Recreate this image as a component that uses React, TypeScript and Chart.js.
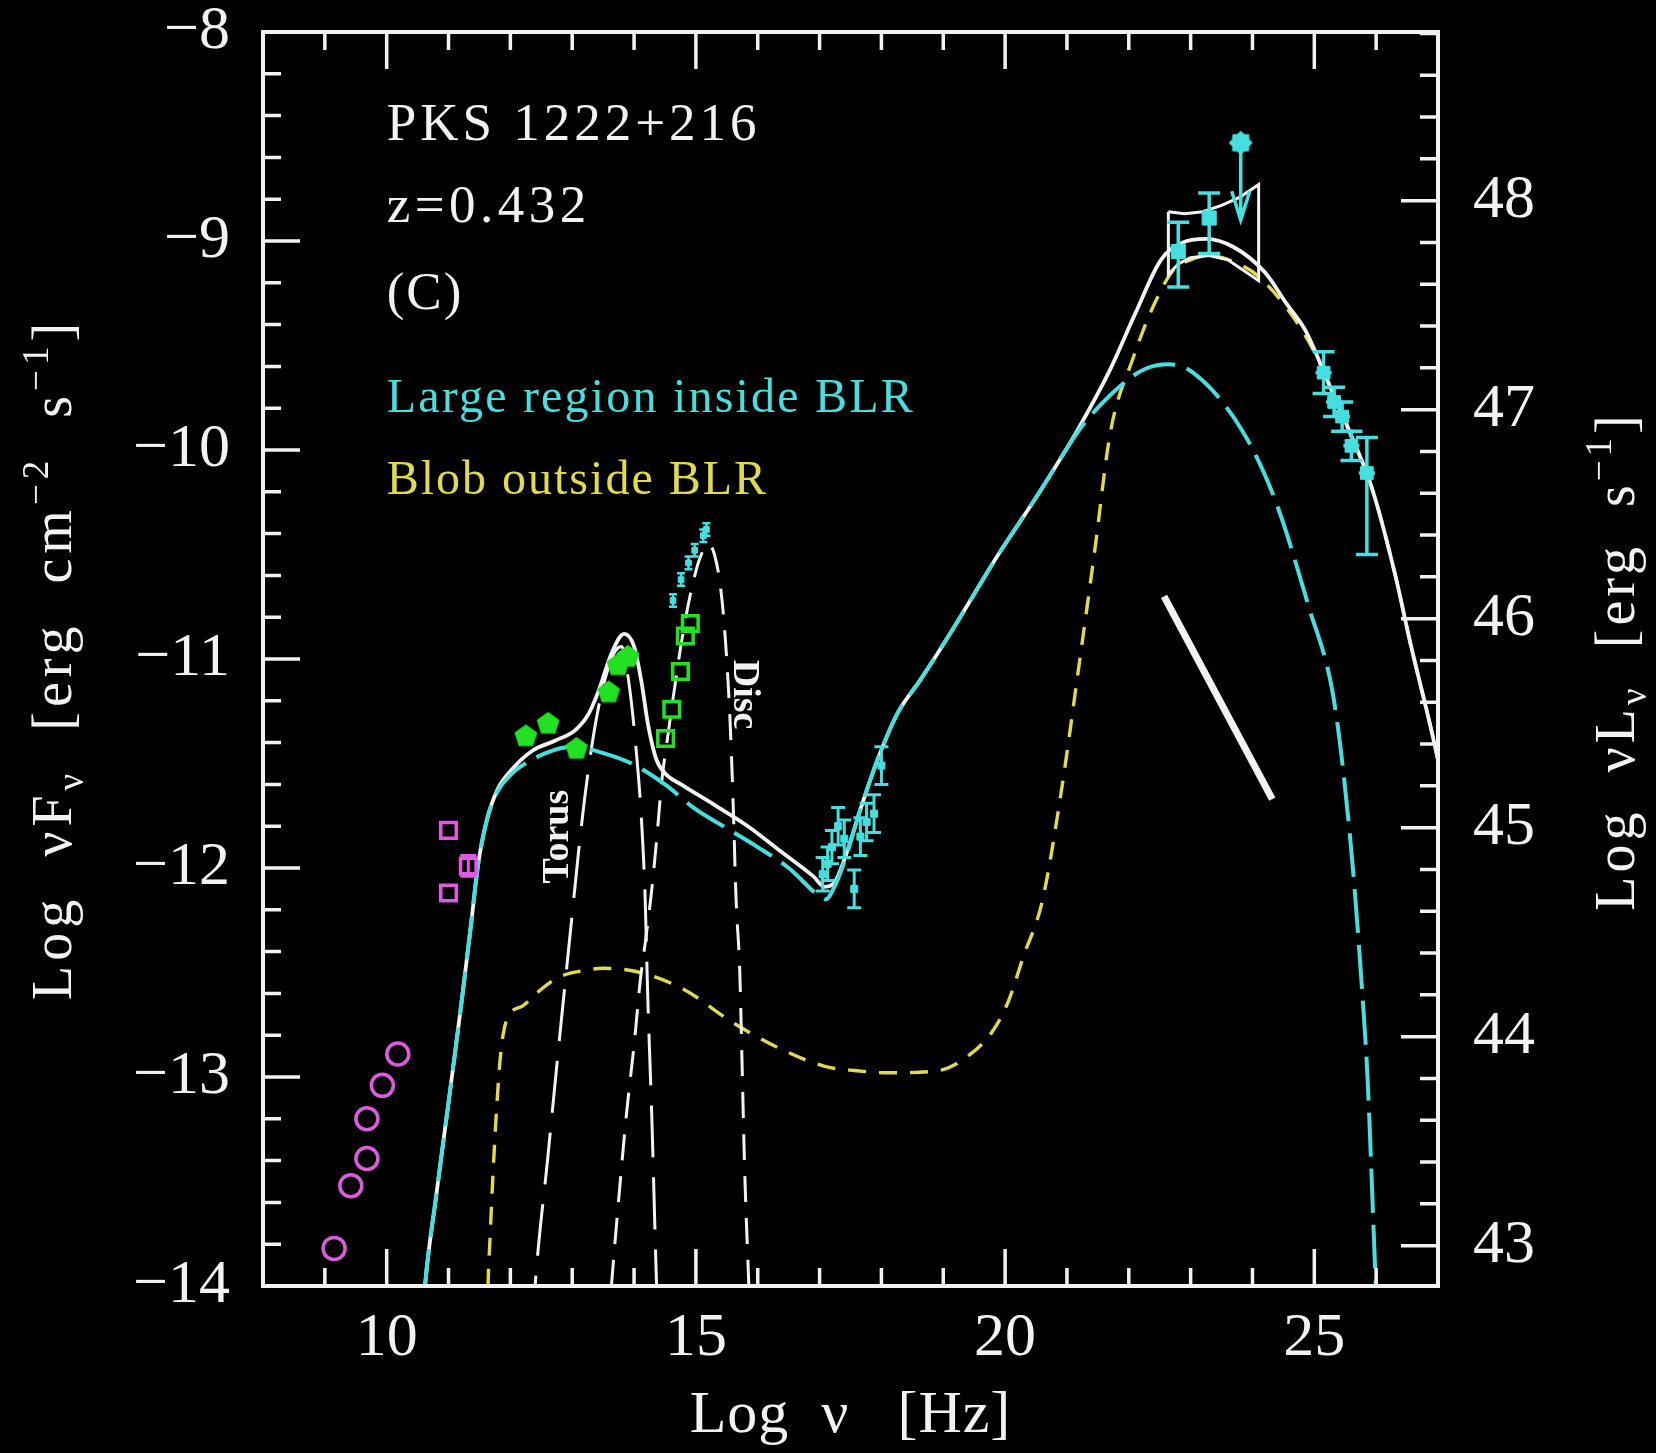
import { useEffect, useRef } from 'react';
import { Chart, registerables } from 'chart.js';

Chart.register(...registerables);

// log(4π d_L²) at z = 0.432: shifts νFν onto the νLν axis on the right
const LUM_OFFSET = 56.807;

const X_TICKS = [10, 15, 20, 25];
const Y_TICKS = [-14, -13, -12, -11, -10, -9, -8];
const Y2_TICKS = [43, 44, 45, 46, 47, 48];

// Total model (sum of all components)
const TOTAL_X = [10.55, 10.62, 10.80, 11.01, 11.22, 11.36, 11.48, 11.62, 11.80, 12.02, 12.35, 12.73, 13.05, 13.27, 13.43, 13.64, 13.84, 14.00, 14.12, 14.23, 14.36, 14.51, 14.76, 15.31, 15.84, 16.37, 16.90, 17.08, 17.24, 17.40, 17.66, 17.94, 18.26, 18.63, 19.17, 19.87, 20.56, 21.18, 21.69, 22.10, 22.52, 22.85, 23.25, 23.70, 24.20, 24.55, 24.86, 25.23, 25.61, 25.94, 26.31, 26.55, 26.90, 27.10];
const TOTAL_Y = [-14.3, -14.0, -13.57, -13.10, -12.62, -12.28, -11.98, -11.77, -11.62, -11.53, -11.44, -11.39, -11.34, -11.26, -11.15, -10.97, -10.88, -10.94, -11.11, -11.32, -11.48, -11.55, -11.60, -11.70, -11.80, -11.92, -12.04, -12.09, -12.07, -11.96, -11.72, -11.48, -11.26, -11.10, -10.85, -10.51, -10.20, -9.90, -9.62, -9.35, -9.09, -9.01, -8.99, -9.03, -9.15, -9.30, -9.43, -9.68, -9.94, -10.19, -10.60, -10.92, -11.35, -11.62];

// Large emitting region inside the BLR
const LARGE_X = [10.55, 10.62, 10.80, 11.01, 11.22, 11.36, 11.48, 11.62, 11.80, 12.02, 12.14, 12.57, 13.00, 13.50, 13.96, 14.50, 15.00, 15.50, 16.00, 16.50, 17.02, 17.10, 17.24, 17.40, 17.66, 17.94, 18.26, 18.63, 19.17, 19.87, 20.56, 21.16, 21.37, 21.96, 22.28, 22.65, 23.04, 23.84, 24.38, 24.91, 25.29, 25.45, 25.62, 25.75, 25.86, 25.96, 26.02];
const LARGE_Y = [-14.3, -14.0, -13.57, -13.10, -12.62, -12.28, -11.98, -11.77, -11.63, -11.55, -11.52, -11.45, -11.42, -11.45, -11.50, -11.60, -11.72, -11.81, -11.90, -12.00, -12.14, -12.15, -12.09, -11.97, -11.72, -11.48, -11.26, -11.10, -10.85, -10.51, -10.20, -9.92, -9.84, -9.67, -9.61, -9.59, -9.63, -9.91, -10.25, -10.75, -11.15, -11.49, -11.99, -12.49, -13.00, -13.74, -14.2];

// Blob outside the BLR
const BLOB_X = [11.62, 11.64, 11.67, 11.72, 11.78, 11.85, 11.95, 12.20, 12.50, 12.80, 13.20, 13.50, 14.10, 14.80, 15.60, 16.40, 17.10, 17.60, 18.10, 18.90, 19.40, 19.80, 20.05, 20.30, 20.60, 20.90, 21.20, 21.45, 21.70, 22.07, 22.40, 22.72, 23.00, 23.30, 23.70, 24.10, 24.65, 25.00, 25.23, 25.61, 25.94, 26.31, 26.55, 26.90, 27.10];
const BLOB_Y = [-14.3, -13.99, -13.78, -13.46, -13.14, -12.87, -12.72, -12.66, -12.58, -12.52, -12.49, -12.48, -12.50, -12.58, -12.74, -12.87, -12.95, -12.97, -12.98, -12.97, -12.90, -12.78, -12.64, -12.42, -12.16, -11.65, -11.02, -10.48, -9.92, -9.56, -9.31, -9.14, -9.09, -9.07, -9.10, -9.17, -9.36, -9.53, -9.68, -9.94, -10.19, -10.60, -10.92, -11.35, -11.62];

// Dusty torus
const TORUS_X = [12.36, 12.40, 12.60, 12.80, 13.00, 13.10, 13.20, 13.30, 13.40, 13.50, 13.60, 13.70, 13.80, 13.91, 14.02, 14.12, 14.18, 14.22, 14.29, 14.36, 14.40];
const TORUS_Y = [-14.2, -14.0, -13.40, -12.80, -12.22, -11.93, -11.67, -11.45, -11.27, -11.13, -11.03, -10.96, -10.94, -11.10, -11.39, -11.77, -12.15, -12.60, -13.22, -13.96, -14.3];

// Accretion disc
const DISC_X = [13.58, 13.62, 13.75, 13.88, 14.01, 14.10, 14.18, 14.28, 14.37, 14.45, 14.55, 14.65, 14.75, 14.85, 14.95, 15.05, 15.20, 15.30, 15.40, 15.47, 15.55, 15.60, 15.65, 15.71, 15.75, 15.79, 15.85, 15.88];
const DISC_Y = [-14.2, -14.05, -13.59, -13.17, -12.82, -12.54, -12.36, -12.12, -11.85, -11.58, -11.36, -11.15, -10.95, -10.78, -10.64, -10.53, -10.45, -10.50, -10.66, -10.88, -11.28, -11.67, -12.15, -12.50, -12.98, -13.46, -13.95, -14.2];

// Radio (open circles)
const RADIO_X = [9.15, 9.42, 9.68, 9.68, 9.93, 10.18];
const RADIO_Y = [-13.82, -13.52, -13.39, -13.20, -13.04, -12.89];

// mm (open squares)
const MM_X = [11.0, 11.0, 11.32];
const MM_Y = [-11.82, -12.12, -11.99];
const MM_ERR = [0, 0, 0.05];

// IR (filled pentagons)
const IR_X = [12.25, 12.61, 13.07, 13.59, 13.74, 13.90];
const IR_Y = [-11.37, -11.31, -11.43, -11.16, -11.03, -10.99];

// Optical (open squares)
const OPT_X = [14.51, 14.61, 14.75, 14.83, 14.91];
const OPT_Y = [-11.38, -11.24, -11.06, -10.89, -10.83];

// UV
const UV_X = [14.63, 14.76, 14.88, 14.98, 15.12, 15.17];
const UV_Y = [-10.72, -10.62, -10.54, -10.48, -10.41, -10.38];
const UV_ERR = [0.03, 0.03, 0.03, 0.03, 0.03, 0.03];

// X-rays
const XR_X = [17.05, 17.13, 17.20, 17.30, 17.40, 17.56, 17.66, 17.76, 17.88, 18.00];
const XR_Y = [-12.03, -11.98, -11.90, -11.80, -11.86, -12.10, -11.85, -11.78, -11.74, -11.51];
const XR_ERR = [0.08, 0.08, 0.08, 0.09, 0.09, 0.09, 0.09, 0.09, 0.09, 0.09];

// Fermi-LAT
const LAT_X = [22.80, 23.30];
const LAT_Y = [-9.05, -8.89];
const LAT_HI = [0.14, 0.12];
const LAT_LO = [0.17, 0.17];
const UL_X = [23.81];
const UL_Y = [-8.53];
const UL_TO = [-8.90];

// LAT butterfly
const BOW_X = [22.64, 22.90, 23.20, 23.50, 23.80, 24.10, 24.10, 23.90, 23.60, 23.30, 23.00, 22.80, 22.64, 22.64];
const BOW_Y = [-8.86, -8.87, -8.86, -8.83, -8.79, -8.73, -9.19, -9.15, -9.09, -9.07, -9.08, -9.11, -9.16, -8.86];

// VHE spectrum
const TEV_X = [25.15, 25.32, 25.45, 25.60, 25.85];
const TEV_Y = [-9.63, -9.77, -9.84, -9.98, -10.11];
const TEV_HI = [0.10, 0.07, 0.07, 0.07, 0.17];
const TEV_LO = [0.10, 0.07, 0.07, 0.07, 0.39];
const TEV_XERR = [0.13, 0.13, 0.13, 0.13, 0.13];

// Straight power-law segment
const SLOPE_X = [22.57, 24.32];
const SLOPE_Y = [-10.70, -11.67];

const SERIF = '"Liberation Serif", "DejaVu Serif", serif';
const WHITE = '#f2f2f2';
const CYAN = '#46dede';
const YELLOW = '#e2da4e';
const MAGENTA = '#de5ade';
const GREEN = '#22e022';

const ANNOTATIONS = [
  { text: 'PKS 1222+216', x: 10.0, y: -8.517, color: WHITE, size: 53, spacing: 4 },
  { text: 'z=0.432', x: 10.0, y: -8.909, color: WHITE, size: 53, spacing: 4.5 },
  { text: '(C)', x: 10.0, y: -9.325, color: WHITE, size: 53, spacing: 2 },
  { text: 'Large region inside BLR', x: 10.0, y: -9.818, color: CYAN, size: 48, spacing: 2.2 },
  { text: 'Blob outside BLR', x: 10.0, y: -10.211, color: YELLOW, size: 48, spacing: 2 },
];

const CURVE_LABELS = [
  { text: 'Torus', x: 12.78, y: -11.85, angle: -Math.PI / 2, size: 38 },
  { text: 'Disc', x: 15.78, y: -11.17, angle: Math.PI / 2, size: 38 },
];

type Seg = { t: string; k?: 'sub' | 'sup' };

const Y_TITLE: Seg[] = [
  { t: 'Log  ν' }, { t: 'F' }, { t: 'ν', k: 'sub' }, { t: '  [erg  cm' }, { t: '−2', k: 'sup' },
  { t: '  s' }, { t: '−1', k: 'sup' }, { t: ']' },
];
const Y2_TITLE: Seg[] = [
  { t: 'Log  νL' }, { t: 'ν', k: 'sub' }, { t: '  [erg  s' }, { t: '−1', k: 'sup' }, { t: ']' },
];
const X_TITLE: Seg[] = [{ t: 'Log  ν   [Hz]' }];

const pts = (xs: number[], ys: number[]) => xs.map((x, i) => ({ x, y: ys[i] }));

function drawRich(ctx: CanvasRenderingContext2D, segs: Seg[], cx: number, cy: number, angle: number, size: number, spacing: number) {
  ctx.save();
  ctx.translate(cx, cy);
  ctx.rotate(angle);
  (ctx as any).letterSpacing = `${spacing}px`;
  ctx.fillStyle = WHITE;
  ctx.textBaseline = 'alphabetic';
  ctx.textAlign = 'left';
  const fontFor = (k?: string) => `${k ? Math.round(size * 0.66) : size}px ${SERIF}`;
  const widths = segs.map((s) => {
    ctx.font = fontFor(s.k);
    return ctx.measureText(s.t).width;
  });
  const total = widths.reduce((a, b) => a + b, 0);
  let x = -total / 2;
  segs.forEach((s, i) => {
    ctx.font = fontFor(s.k);
    const dy = s.k === 'sub' ? size * 0.2 : s.k === 'sup' ? -size * 0.42 : 0;
    ctx.fillText(s.t, x, size * 0.33 + dy);
    x += widths[i];
  });
  ctx.restore();
}

function polygonCanvas(n: number, r: number, inner: number, color: string) {
  const c = document.createElement('canvas');
  const s = Math.ceil(r * 2 + 4);
  c.width = s;
  c.height = s;
  const g = c.getContext('2d')!;
  g.fillStyle = color;
  g.beginPath();
  const steps = inner < 1 ? n * 2 : n;
  for (let i = 0; i < steps; i++) {
    const rr = inner < 1 && i % 2 === 1 ? r * inner : r;
    const a = -Math.PI / 2 + (i * 2 * Math.PI) / steps;
    const px = s / 2 + rr * Math.cos(a);
    const py = s / 2 + rr * Math.sin(a);
    if (i === 0) g.moveTo(px, py);
    else g.lineTo(px, py);
  }
  g.closePath();
  g.fill();
  return c;
}

const backgroundPlugin = {
  id: 'blackBackground',
  beforeDraw(chart: any) {
    const { ctx, width, height } = chart;
    ctx.save();
    ctx.fillStyle = '#000';
    ctx.fillRect(0, 0, width, height);
    ctx.restore();
  },
};

const errorBarPlugin = {
  id: 'errorBars',
  afterDatasetsDraw(chart: any) {
    const { ctx, chartArea: a } = chart;
    const xs = chart.scales.x;
    const ys = chart.scales.y;
    ctx.save();
    ctx.beginPath();
    ctx.rect(a.left, a.top, a.right - a.left, a.bottom - a.top);
    ctx.clip();
    chart.data.datasets.forEach((ds: any) => {
      const eb = ds.errorBars;
      if (!eb) return;
      ctx.strokeStyle = eb.color;
      ctx.lineWidth = eb.lineWidth;
      ds.data.forEach((p: any, j: number) => {
        const px = xs.getPixelForValue(p.x);
        const py = ys.getPixelForValue(p.y);
        const c = eb.cap / 2;
        ctx.beginPath();
        if (eb.hi && (eb.hi[j] || eb.lo[j])) {
          const t = ys.getPixelForValue(p.y + eb.hi[j]);
          const b = ys.getPixelForValue(p.y - eb.lo[j]);
          ctx.moveTo(px, t);
          ctx.lineTo(px, b);
          ctx.moveTo(px - c, t);
          ctx.lineTo(px + c, t);
          ctx.moveTo(px - c, b);
          ctx.lineTo(px + c, b);
        }
        if (eb.xerr && eb.xerr[j]) {
          ctx.moveTo(xs.getPixelForValue(p.x - eb.xerr[j]), py);
          ctx.lineTo(xs.getPixelForValue(p.x + eb.xerr[j]), py);
        }
        if (eb.arrowTo) {
          const e = ys.getPixelForValue(eb.arrowTo[j]);
          ctx.moveTo(px, py);
          ctx.lineTo(px, e);
          ctx.moveTo(px - eb.head, e - eb.head * 3.2);
          ctx.lineTo(px, e);
          ctx.lineTo(px + eb.head, e - eb.head * 3.2);
        }
        ctx.stroke();
      });
    });
    ctx.restore();
  },
};

const framePlugin = {
  id: 'sedFrame',
  afterDraw(chart: any) {
    const { ctx, chartArea: a } = chart;
    const xs = chart.scales.x;
    const ys = chart.scales.y;
    const y2 = chart.scales.y2;
    ctx.save();
    ctx.strokeStyle = WHITE;
    ctx.lineWidth = 4;
    ctx.strokeRect(a.left, a.top, a.right - a.left, a.bottom - a.top);
    ctx.lineWidth = 3.5;
    ctx.beginPath();
    for (let v = 8; v <= 27; v++) {
      const len = v % 5 === 0 ? 37 : 18;
      const px = xs.getPixelForValue(v);
      ctx.moveTo(px, a.bottom);
      ctx.lineTo(px, a.bottom - len);
      ctx.moveTo(px, a.top);
      ctx.lineTo(px, a.top + len);
    }
    for (let k = 0; k <= 30; k++) {
      const v = Math.round((-14 + k * 0.2) * 10) / 10;
      const len = k % 5 === 0 ? 37 : 18;
      const py = ys.getPixelForValue(v);
      ctx.moveTo(a.left, py);
      ctx.lineTo(a.left + len, py);
    }
    for (let k = 0; k <= 29; k++) {
      const v = Math.round((43 + k * 0.2) * 10) / 10;
      const len = k % 5 === 0 ? 37 : 18;
      const py = y2.getPixelForValue(v);
      ctx.moveTo(a.right, py);
      ctx.lineTo(a.right - len, py);
    }
    ctx.stroke();
    ctx.restore();
  },
};

const textPlugin = {
  id: 'sedText',
  afterDraw(chart: any) {
    const { ctx, chartArea: a } = chart;
    const xs = chart.scales.x;
    const ys = chart.scales.y;
    ANNOTATIONS.forEach((n) => {
      ctx.save();
      ctx.font = `${n.size}px ${SERIF}`;
      (ctx as any).letterSpacing = `${n.spacing}px`;
      ctx.fillStyle = n.color;
      ctx.textBaseline = 'alphabetic';
      ctx.textAlign = 'left';
      ctx.fillText(n.text, xs.getPixelForValue(n.x), ys.getPixelForValue(n.y));
      ctx.restore();
    });
    CURVE_LABELS.forEach((n) => {
      ctx.save();
      ctx.translate(xs.getPixelForValue(n.x), ys.getPixelForValue(n.y));
      ctx.rotate(n.angle);
      ctx.font = `bold ${n.size}px ${SERIF}`;
      ctx.fillStyle = WHITE;
      ctx.textAlign = 'center';
      ctx.textBaseline = 'middle';
      ctx.fillText(n.text, 0, 0);
      ctx.restore();
    });
    const midY = (a.top + a.bottom) / 2;
    drawRich(ctx, Y_TITLE, 53, midY, -Math.PI / 2, 56, 5);
    drawRich(ctx, Y2_TITLE, 1616, midY + 2, -Math.PI / 2, 56, 4);
    drawRich(ctx, X_TITLE, (a.left + a.right) / 2, 1412, 0, 60, 1);
  },
};

const minus = (v: number) => (v < 0 ? '\u2212' + Math.abs(v) : String(v));

// keep label overhang from enlarging the layout
const noPad = (s: any) => {
  s.paddingTop = 0;
  s.paddingBottom = 0;
  s.paddingLeft = 0;
  s.paddingRight = 0;
};

export default function App() {
  const ref = useRef<HTMLCanvasElement>(null);

  useEffect(() => {
    document.body.style.margin = '0';
    document.body.style.background = '#000';
    const canvas = ref.current;
    if (!canvas) return;

    const pentagon = polygonCanvas(5, 12, 1, GREEN);
    const star = polygonCanvas(8, 12, 0.78, CYAN);

    const curve = (xs: number[], ys: number[], color: string, width: number, dash: number[], order: number) => ({
      data: pts(xs, ys),
      showLine: true,
      borderColor: color,
      borderWidth: width,
      borderDash: dash,
      pointRadius: 0,
      pointHitRadius: 0,
      cubicInterpolationMode: 'monotone',
      fill: false,
      order,
    });

    const font = { family: SERIF, size: 62 };

    const chart = new Chart(canvas, {
      type: 'scatter',
      data: {
        datasets: [
          curve(BLOB_X, BLOB_Y, YELLOW, 3.4, [18, 13], 20),
          curve(TORUS_X, TORUS_Y, WHITE, 3, [52, 20], 19),
          curve(DISC_X, DISC_Y, WHITE, 3, [26, 16], 18),
          curve(TOTAL_X, TOTAL_Y, WHITE, 3.8, [], 17),
          curve(LARGE_X, LARGE_Y, CYAN, 4, [44, 12], 16),
          { ...curve(BOW_X, BOW_Y, WHITE, 3, [], 15), cubicInterpolationMode: 'default', tension: 0 },
          { ...curve(SLOPE_X, SLOPE_Y, WHITE, 7, [], 14), cubicInterpolationMode: 'default', tension: 0 },
          {
            data: pts(RADIO_X, RADIO_Y), pointStyle: 'circle', pointRadius: 11, pointBorderWidth: 3.5,
            pointBorderColor: MAGENTA, pointBackgroundColor: 'rgba(0,0,0,0)', order: 5,
          },
          {
            data: pts(MM_X, MM_Y), pointStyle: 'rect', pointRadius: 11, pointBorderWidth: 3.5,
            pointBorderColor: MAGENTA, pointBackgroundColor: 'rgba(0,0,0,0)', order: 5,
            errorBars: { color: MAGENTA, lineWidth: 3, cap: 16, hi: MM_ERR, lo: MM_ERR },
          },
          { data: pts(IR_X, IR_Y), pointStyle: pentagon, order: 5 },
          {
            data: pts(OPT_X, OPT_Y), pointStyle: 'rect', pointRadius: 11, pointBorderWidth: 3.5,
            pointBorderColor: GREEN, pointBackgroundColor: 'rgba(0,0,0,0)', order: 5,
          },
          {
            data: pts(UV_X, UV_Y), pointStyle: 'rect', pointRadius: 4, pointBorderWidth: 1,
            pointBorderColor: CYAN, pointBackgroundColor: CYAN, order: 4,
            errorBars: { color: CYAN, lineWidth: 2.5, cap: 8, hi: UV_ERR, lo: UV_ERR },
          },
          {
            data: pts(XR_X, XR_Y), pointStyle: 'rect', pointRadius: 5, pointBorderWidth: 1,
            pointBorderColor: CYAN, pointBackgroundColor: CYAN, order: 4,
            errorBars: { color: CYAN, lineWidth: 3, cap: 14, hi: XR_ERR, lo: XR_ERR },
          },
          {
            data: pts(LAT_X, LAT_Y), pointStyle: 'rect', pointRadius: 10, pointBorderWidth: 1,
            pointBorderColor: CYAN, pointBackgroundColor: CYAN, order: 4,
            errorBars: { color: CYAN, lineWidth: 3.5, cap: 22, hi: LAT_HI, lo: LAT_LO },
          },
          {
            data: pts(UL_X, UL_Y), pointStyle: star, order: 4,
            errorBars: { color: CYAN, lineWidth: 3.5, cap: 0, arrowTo: UL_TO, head: 9 },
          },
          {
            data: pts(TEV_X, TEV_Y), pointStyle: 'rect', pointRadius: 9, pointBorderWidth: 1,
            pointBorderColor: CYAN, pointBackgroundColor: CYAN, order: 4,
            errorBars: { color: CYAN, lineWidth: 3.5, cap: 22, hi: TEV_HI, lo: TEV_LO, xerr: TEV_XERR },
          },
        ] as any,
      },
      options: {
        responsive: false,
        animation: false,
        devicePixelRatio: 1,
        events: [],
        layout: { padding: { top: 32, left: 0, right: 0, bottom: 0 } },
        plugins: { legend: { display: false }, tooltip: { enabled: false } },
        scales: {
          x: {
            type: 'linear',
            position: 'bottom',
            min: 8,
            max: 27,
            grid: { display: false, drawTicks: false },
            border: { display: false },
            ticks: { color: WHITE, font, padding: 16, autoSkip: false, maxRotation: 0 },
            afterBuildTicks: (s: any) => { s.ticks = X_TICKS.map((v) => ({ value: v })); },
            afterFit: (s: any) => { s.height = 167; noPad(s); },
          },
          y: {
            type: 'linear',
            position: 'left',
            min: -14,
            max: -8,
            grid: { display: false, drawTicks: false },
            border: { display: false },
            ticks: { color: WHITE, font, padding: 33, autoSkip: false, callback: (v: any) => minus(Number(v)) },
            afterBuildTicks: (s: any) => { s.ticks = Y_TICKS.map((v) => ({ value: v })); },
            afterFit: (s: any) => { s.width = 263; noPad(s); },
          },
          y2: {
            type: 'linear',
            position: 'right',
            min: -14 + LUM_OFFSET,
            max: -8 + LUM_OFFSET,
            grid: { display: false, drawTicks: false },
            border: { display: false },
            ticks: { color: WHITE, font, padding: 35, autoSkip: false, callback: (v: any) => String(v) },
            afterBuildTicks: (s: any) => { s.ticks = Y2_TICKS.map((v) => ({ value: v })); },
            afterFit: (s: any) => { s.width = 218; noPad(s); },
          },
        },
      } as any,
      plugins: [backgroundPlugin, errorBarPlugin, framePlugin, textPlugin],
    });

    return () => chart.destroy();
  }, []);

  return <canvas ref={ref} width={1656} height={1453} style={{ display: 'block' }} />;
}
